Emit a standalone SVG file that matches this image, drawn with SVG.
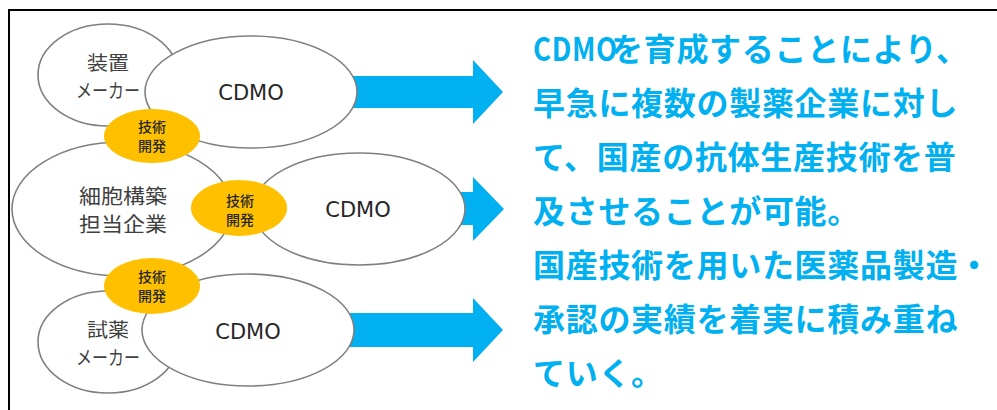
<svg xmlns="http://www.w3.org/2000/svg" width="997" height="410" viewBox="0 0 997 410">
<style>
.ell{fill:#fff;stroke:#7f7f7f;stroke-width:1.6}
.gold{fill:#ffc000;stroke:none}
.lbl{font-family:"Noto Sans CJK JP",sans-serif;font-size:20px;fill:#404040;text-anchor:middle}
.sm{font-size:19px}
.cdmo{font-family:"DejaVu Sans",sans-serif;font-size:21px;fill:#262626;text-anchor:middle}
.tk{font-family:"Noto Sans CJK JP",sans-serif;font-size:14px;font-weight:500;fill:#262626;text-anchor:middle}
.arrow{fill:#00b0f0}
.msg{font-family:"Noto Sans CJK JP",sans-serif;font-size:32px;font-weight:700;fill:#00b0f0;letter-spacing:0.7px}
</style>
<rect x="0" y="0" width="997" height="410" fill="#fff"/>
<path d="M9,410 V10 H997" fill="none" stroke="#000" stroke-width="2"/>
<g id="connectors">
<polygon class="arrow" points="300,76 473,76 473,60 503,92 473,124 473,108 300,108"/>
<polygon class="arrow" points="400,192 473,192 473,177 504,209 473,241 473,225 400,225"/>
<polygon class="arrow" points="300,313 473,313 473,298 503,330 473,362 473,347 300,347"/>
</g>
<g id="maker1">
<ellipse class="ell" cx="108" cy="75" rx="70" ry="51"/>
<text class="lbl sm" x="108" y="70" textLength="42" lengthAdjust="spacingAndGlyphs">装置</text>
<text class="lbl sm" x="108" y="98" textLength="64" lengthAdjust="spacingAndGlyphs">メーカー</text>
</g>
<g id="cdmo1">
<ellipse class="ell" cx="251" cy="92" rx="106" ry="56"/>
<text class="cdmo" x="251" y="100">CDMO</text>
</g>
<g id="cell">
<ellipse class="ell" cx="122" cy="209" rx="110" ry="67"/>
<text class="lbl" x="123" y="204" textLength="88" lengthAdjust="spacingAndGlyphs">細胞構築</text>
<text class="lbl" x="123" y="232" textLength="88" lengthAdjust="spacingAndGlyphs">担当企業</text>
</g>
<g id="cdmo2">
<ellipse class="ell" cx="359" cy="209" rx="106" ry="56"/>
<text class="cdmo" x="358" y="217">CDMO</text>
</g>
<g id="maker3">
<ellipse class="ell" cx="108" cy="342" rx="70" ry="51"/>
<text class="lbl sm" x="108" y="337" textLength="42" lengthAdjust="spacingAndGlyphs">試薬</text>
<text class="lbl sm" x="108" y="365" textLength="64" lengthAdjust="spacingAndGlyphs">メーカー</text>
</g>
<g id="cdmo3">
<ellipse class="ell" cx="248" cy="330" rx="106" ry="56"/>
<text class="cdmo" x="248" y="339">CDMO</text>
</g>
<g id="tech1">
<ellipse class="gold" cx="152" cy="136" rx="48" ry="27"/>
<text class="tk" x="152" y="132">技術</text>
<text class="tk" x="152" y="151">開発</text>
</g>
<g id="tech2">
<ellipse class="gold" cx="239" cy="208" rx="48" ry="28"/>
<text class="tk" x="240" y="206">技術</text>
<text class="tk" x="240" y="225">開発</text>
</g>
<g id="tech3">
<ellipse class="gold" cx="152" cy="286" rx="48" ry="28"/>
<text class="tk" x="152" y="282">技術</text>
<text class="tk" x="152" y="301">開発</text>
</g>
<g id="message">
<text class="msg" transform="translate(533,61) scale(0.86,1)" x="0" y="0" font-size="33" letter-spacing="0">CDMO</text>
<text class="msg" x="611" y="61">を育成することにより、</text>
<text class="msg" x="533" y="115">早急に複数の製薬企業に対し</text>
<text class="msg" x="533" y="169">て、国産の抗体生産技術を普</text>
<text class="msg" x="533" y="223">及させることが可能。</text>
<text class="msg" x="533" y="277">国産技術を用いた医薬品製造・</text>
<text class="msg" x="533" y="331">承認の実績を着実に積み重ね</text>
<text class="msg" x="533" y="385">ていく。</text>
</g>
</svg>
